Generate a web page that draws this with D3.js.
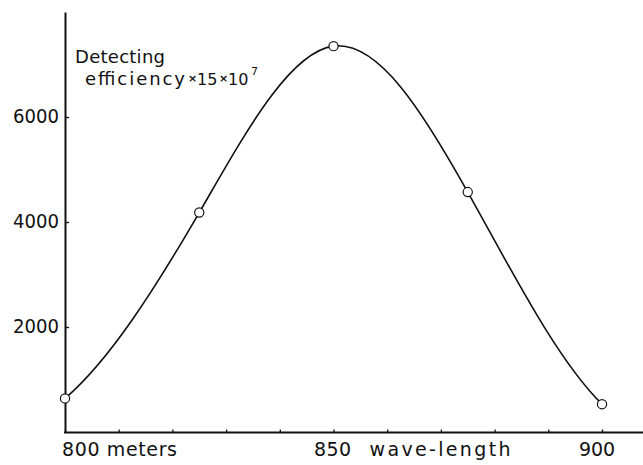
<!DOCTYPE html>
<html>
<head>
<meta charset="utf-8">
<script src="https://cdn.jsdelivr.net/npm/d3@7"></script>
<style>
  html, body { margin: 0; padding: 0; background: #fff; }
  svg { display: block; }
  text { font-family: "DejaVu Sans", sans-serif; fill: #111; }
</style>
</head>
<body>
<div id="chart"></div>
<script>
const width = 643
const height = 465

// wave-length in meters, detecting efficiency (x 15 x 10^7)
const wavelengths = [800, 825, 850, 875, 900]
const efficiency = [640, 4180, 7350, 4570, 530]
const xTicks = [800, 810, 820, 830, 840, 850, 860, 870, 880, 890, 900]
const yTicks = [2000, 4000, 6000]

const x = d3.scaleLinear().domain([800, 900]).range([65, 602])
const y = d3.scaleLinear().domain([0, 8000]).range([432, 12])

const svg = d3.select("#chart")
    .append("svg")
    .attr("width", width)
    .attr("height", height)

// y axis, ticks pointing inwards
const yAxis = svg.append("g")
    .attr("transform", `translate(${x(800)},0)`)
    .call(d3.axisLeft(y).tickValues(yTicks).tickSize(-4).tickSizeOuter(0).tickPadding(6).tickFormat(d3.format("d")))
yAxis.select(".domain").attr("stroke", "#111").attr("stroke-width", 2)
yAxis.selectAll(".tick line").attr("stroke", "#111").attr("stroke-width", 1.3)
yAxis.selectAll(".tick text")
    .attr("font-size", 20)
    .attr("font-family", "DejaVu Sans, sans-serif")
    .attr("fill", "#111")
    .attr("dy", "0.25em")
    .attr("textLength", 46)
    .attr("lengthAdjust", "spacingAndGlyphs")

// x axis: line runs on past 900 to the edge
const xAxis = svg.append("g")
    .attr("transform", `translate(0,${y(0) + 0.5})`)
    .call(d3.axisBottom(x).tickValues(xTicks).tickSize(-3).tickFormat(""))
xAxis.select(".domain").remove()
xAxis.selectAll(".tick line").attr("stroke", "#111").attr("stroke-width", 1.3)
xAxis.append("line")
    .attr("x1", x(800) - 1).attr("x2", width)
    .attr("stroke", "#111").attr("stroke-width", 2)

const labelY = y(0) + 24
const xLabels = [
    { text: "800 meters", at: 800, dx: -3, anchor: "start", len: 115 },
    { text: "850", at: 850, dx: -1, anchor: "middle", len: 37 },
    { text: "wave-length", at: 850, dx: 36, anchor: "start", len: 141 },
    { text: "900", at: 900, dx: -5, anchor: "middle", len: 36 }
]
svg.append("g").selectAll("text")
    .data(xLabels)
    .enter()
    .append("text")
    .attr("x", d => x(d.at) + d.dx)
    .attr("y", labelY)
    .attr("text-anchor", d => d.anchor)
    .attr("font-size", 19)
    .attr("textLength", d => d.len)
    .attr("lengthAdjust", "spacing")
    .text(d => d.text)

// title inside the plot
svg.append("text").attr("x", 75).attr("y", 62.5).attr("font-size", 18)
    .attr("textLength", 90).attr("lengthAdjust", "spacing").text("Detecting")
svg.append("text").attr("x", 85).attr("y", 85).attr("font-size", 18)
    .attr("textLength", 100).attr("lengthAdjust", "spacing").text("efficiency")

const factor = svg.append("text").attr("y", 85).attr("font-size", 16)
factor.append("tspan").attr("x", 188).attr("dy", -3).attr("font-size", 11).attr("font-weight", "bold").text("×")
factor.append("tspan").attr("x", 197).attr("dy", 3).text("15")
factor.append("tspan").attr("x", 219).attr("dy", -3).attr("font-size", 11).attr("font-weight", "bold").text("×")
factor.append("tspan").attr("x", 228).attr("dy", 3).text("10")
factor.append("tspan").attr("x", 251).attr("dy", -10).attr("font-size", 11).text("7")

// smooth curve: clamped cubic spline through the points, in pixel space
function splinePath(px, py, endFactor) {
    const n = px.length
    const h = d3.range(n - 1).map(i => px[i + 1] - px[i])
    const s = d3.range(n - 1).map(i => (py[i + 1] - py[i]) / h[i])
    const m = new Array(n).fill(0)
    m[0] = s[0] * endFactor
    m[n - 1] = s[n - 2] * endFactor
    // tridiagonal system for the inner slopes (Thomas algorithm)
    const a = [], b = [], c = [], r = []
    for (let i = 1; i < n - 1; i++) {
        a.push(h[i]); b.push(2 * (h[i - 1] + h[i])); c.push(h[i - 1])
        r.push(3 * (h[i] * s[i - 1] + h[i - 1] * s[i]))
    }
    r[0] -= a[0] * m[0]
    r[r.length - 1] -= c[c.length - 1] * m[n - 1]
    for (let i = 1; i < b.length; i++) {
        const w = a[i] / b[i - 1]
        b[i] -= w * c[i - 1]
        r[i] -= w * r[i - 1]
    }
    const inner = new Array(b.length)
    for (let i = b.length - 1; i >= 0; i--) {
        inner[i] = (r[i] - (i < b.length - 1 ? c[i] * inner[i + 1] : 0)) / b[i]
    }
    inner.forEach((v, i) => m[i + 1] = v)

    const p = d3.path()
    p.moveTo(px[0], py[0])
    for (let i = 0; i < n - 1; i++) {
        const d = h[i] / 3
        p.bezierCurveTo(px[i] + d, py[i] + m[i] * d, px[i + 1] - d, py[i + 1] - m[i + 1] * d, px[i + 1], py[i + 1])
    }
    return p.toString()
}

const px = wavelengths.map(d => x(d))
const py = efficiency.map(d => y(d))

svg.append("path")
    .attr("d", splinePath(px, py, 0.62))
    .attr("fill", "none")
    .attr("stroke", "#111")
    .attr("stroke-width", 1.6)

svg.append("g").selectAll("circle")
    .data(wavelengths.map((w, i) => ({ w, v: efficiency[i] })))
    .enter()
    .append("circle")
    .attr("cx", d => x(d.w))
    .attr("cy", d => y(d.v))
    .attr("r", 4.6)
    .attr("fill", "#fff")
    .attr("stroke", "#111")
    .attr("stroke-width", 1.2)
</script>
</body>
</html>
